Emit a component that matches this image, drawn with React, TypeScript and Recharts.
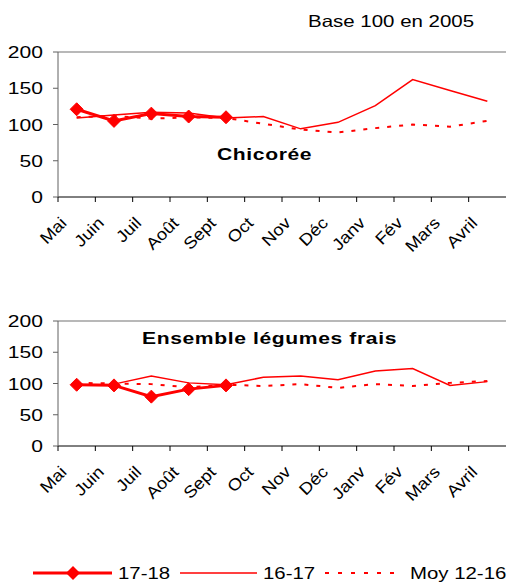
import React from "react";
import { LineChart, Line, XAxis, YAxis, ReferenceLine } from "recharts";

const months = ["Mai", "Juin", "Juil", "Août", "Sept", "Oct", "Nov", "Déc", "Janv", "Fév", "Mars", "Avril"];
const yTicks = [0, 50, 100, 150, 200];

// Chicorée
const chic1718 = [121, 105, 115, 111, 110, null, null, null, null, null, null, null];
const chic1617 = [109, 113, 117, 116, 109, 111, 94, 103, 126, 162, 147, 132];
const chicMoy = [110, 112, 108, 110, 109, 101, 93, 89, 95, 100, 97, 105];

// Ensemble légumes frais
const leg1718 = [98, 97, 79, 91, 97, null, null, null, null, null, null, null];
const leg1617 = [98, 99, 112, 101, 98, 110, 112, 106, 120, 124, 97, 103];
const legMoy = [101, 100, 99, 94, 98, 96, 99, 93, 99, 96, 101, 104];

const RED = "#ff0000";
const FONT = "'Liberation Sans', Arial, sans-serif";
const BAND = 448 / 12;
const SX = 1.24; // the original picture is stretched horizontally

const Diamond = (props: any) => {
  const { cx, cy, value } = props;
  if (value == null || cx == null || cy == null) return null;
  const r = 6.5;
  return <path d={`M${cx},${cy - r}L${cx + r},${cy}L${cx},${cy + r}L${cx - r},${cy}Z`} fill={RED} stroke={RED} />;
};

const MonthTick = (props: any) => {
  const { x, y, payload } = props;
  return (
    <g>
      <line x1={x - BAND / 2} y1={y} x2={x - BAND / 2} y2={y + 5} stroke="#000" />
      <g transform={`translate(${x - 9},${y + 27}) rotate(-45) scale(1.12,1)`}>
        <text x={0} y={0} textAnchor="end" fontSize={16.5} fontFamily={FONT} fill="#000">
          {payload.value}
        </text>
      </g>
    </g>
  );
};

const ValueTick = (props: any) => {
  const { x, y, payload } = props;
  return (
    <g transform={`translate(${x},${y}) scale(${SX},1)`}>
      <text x={0} y={0} dy="0.36em" textAnchor="end" fontSize={17} fontFamily={FONT} fill="#000">
        {payload.value}
      </text>
    </g>
  );
};

const Stretched = ({ left, top, size, bold, spacing, children }: any) => (
  <div
    style={{
      position: "absolute",
      left,
      top,
      fontSize: size,
      fontWeight: bold ? "bold" : "normal",
      letterSpacing: spacing || 0,
      whiteSpace: "nowrap",
      transform: `scaleX(${SX})`,
      transformOrigin: "left center",
      lineHeight: `${size + 2}px`,
      color: "#000",
    }}
  >
    {children}
  </div>
);

function Panel({ s1718, s1617, moy, top, plotH }: any) {
  const data = months.map((m, i) => ({ m, a: s1718[i], b: s1617[i], c: moy[i] }));
  return (
    <div style={{ position: "absolute", left: 0, top }}>
      <LineChart width={507} height={52 + plotH + 63} data={data} margin={{ top: 52, right: 1, bottom: 0, left: 0 }}>
        <ReferenceLine y={200} stroke="#a0a0a0" strokeWidth={1.5} />
        <XAxis
          dataKey="m"
          scale="band"
          interval={0}
          height={63}
          tickSize={0}
          tickMargin={0}
          tick={<MonthTick />}
          axisLine={{ stroke: "#000" }}
        />
        <YAxis
          domain={[0, 200]}
          ticks={yTicks}
          width={58}
          tickSize={5}
          tickMargin={10}
          axisLine={{ stroke: "#606060" }}
          tickLine={{ stroke: "#606060" }}
          tick={<ValueTick />}
        />
        <Line dataKey="c" stroke={RED} strokeWidth={2} strokeDasharray="4 8" dot={false} isAnimationActive={false} />
        <Line dataKey="b" stroke={RED} strokeWidth={1.5} dot={false} isAnimationActive={false} />
        <Line dataKey="a" stroke={RED} strokeWidth={3} dot={<Diamond />} isAnimationActive={false} />
      </LineChart>
    </div>
  );
}

export default function App() {
  return (
    <div style={{ position: "absolute", left: 0, top: 0, width: 507, height: 583, background: "#fff", fontFamily: FONT }}>
      <Stretched left={308} top={12} size={16.5}>Base 100 en 2005</Stretched>
      <Panel s1718={chic1718} s1617={chic1617} moy={chicMoy} top={0} plotH={145} />
      <Panel s1718={leg1718} s1617={leg1617} moy={legMoy} top={269} plotH={125} />
      <Stretched left={217} top={145} size={17} bold spacing={0.5}>Chicorée</Stretched>
      <Stretched left={142} top={329} size={17} bold spacing={0.5}>Ensemble légumes frais</Stretched>
      <svg style={{ position: "absolute", left: 0, top: 560 }} width={507} height={23}>
        <line x1={33} y1={13} x2={112} y2={13} stroke={RED} strokeWidth={3} />
        <path d="M73,6L80,13L73,20L66,13Z" fill={RED} />
        <line x1={180} y1={13} x2={257} y2={13} stroke={RED} strokeWidth={1.5} />
        <line x1={325} y1={13} x2={400} y2={13} stroke={RED} strokeWidth={2} strokeDasharray="4 9" />
        {[
          { x: 118, t: "17-18" },
          { x: 263, t: "16-17" },
          { x: 410, t: "Moy 12-16" },
        ].map((d) => (
          <g key={d.t} transform={`translate(${d.x},13) scale(1.2,1)`}>
            <text x={0} y={0} dy="0.36em" fontSize={17} fontFamily={FONT} fill="#000">
              {d.t}
            </text>
          </g>
        ))}
      </svg>
    </div>
  );
}
